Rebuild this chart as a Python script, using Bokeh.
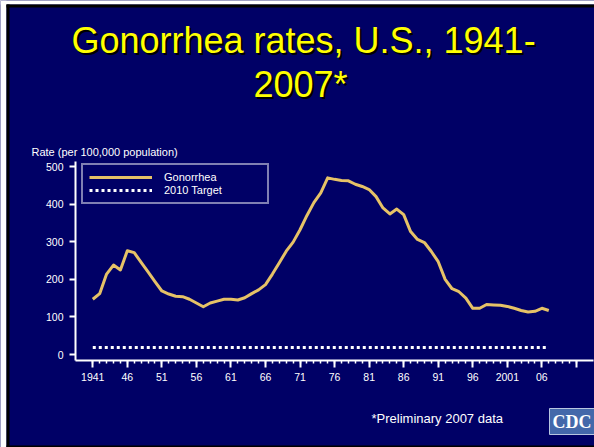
from bokeh.plotting import figure
from bokeh.models import Range1d, FixedTicker, Label, Legend, LegendItem, BoxAnnotation
from bokeh.embed import file_html
from bokeh.resources import INLINE

# ---------------- data ----------------
years = list(range(1941, 2008))
rates = [
    147, 162, 214, 238, 225, 276, 271, 245, 220, 194,   # 1941-1950
    169, 161, 155, 154, 147, 137, 127, 137, 142, 147,   # 1951-1960
    147, 145, 151, 162, 172, 186, 214, 244, 275, 299,   # 1961-1970
    332, 370, 404, 430, 470, 466, 463, 462, 453, 447,   # 1971-1980
    439, 420, 390, 374, 387, 372, 327, 306, 298, 274,   # 1981-1990
    247, 200, 175, 167, 150, 123, 123, 133, 132, 131,   # 1991-2000
    128, 123, 117, 113, 115, 123, 117,                  # 2001-2007
]
target_2010 = 19
target = [target_2010 for _ in years]

x_major_ticks = list(range(1941, 2012, 5))
x_minor_ticks = list(range(1941, 2012))
x_tick_labels = ["1941", "46", "51", "56", "61", "66", "71", "76", "81",
                 "86", "91", "96", "2001", "06", ""]
y_ticks = [0, 100, 200, 300, 400, 500]

# ---------------- style / layout ----------------
W, H = 594, 447
NAVY = "#000066"
GOLD = "#E6C267"
FONT = "Liberation Sans"

# axis box (data) and where it sits on the page (px)
AX0, AX1 = 1938.5, 2013.4
AY0, AY1 = -15.9, 513.5
FL, FR, FT, FB = 75, 592.5, 161, 360

XPP = (AX1 - AX0) / (FR - FL)   # data units per px
YPP = (AY1 - AY0) / (FB - FT)


def px_x(px):
    return AX0 + (px - FL) * XPP


def px_y(py):
    return AY0 + (FB - py) * YPP


p = figure(width=W, height=H,
           x_range=Range1d(px_x(0), px_x(W)), y_range=Range1d(px_y(H), px_y(0)),
           output_backend="svg", toolbar_location=None,
           min_border=0, min_border_left=0, min_border_right=0,
           min_border_top=0, min_border_bottom=0,
           background_fill_color=NAVY, border_fill_color=NAVY,
           outline_line_color=None)
p.grid.visible = False

# slide edge (white margin + black shadow line)
for (l, r, t, b, c) in ((0, 6, 0, H, "white"), (0, W, 0, 4, "white"),
                        (6, 9, 4, H, "black"), (6, W, 4, 7, "black"),
                        (6, W, 445, H, "black")):
    p.add_layout(BoxAnnotation(left=px_x(l), right=px_x(r), top=px_y(t), bottom=px_y(b),
                               fill_color=c, fill_alpha=1, line_color=None))

xa = p.xaxis[0]
xa.ticker = FixedTicker(ticks=x_major_ticks, minor_ticks=x_minor_ticks)
xa.major_label_overrides = {t: l for t, l in zip(x_major_ticks, x_tick_labels)}
xa.fixed_location = AY0
xa.bounds = (AX0, AX1)
ya = p.yaxis[0]
ya.ticker = FixedTicker(ticks=y_ticks, minor_ticks=[])
ya.fixed_location = AX0
ya.bounds = (AY0, AY1)

for ax in (xa, ya):
    ax.axis_line_color = "white"
    ax.axis_line_width = 2
    ax.major_tick_line_color = "white"
    ax.major_tick_line_width = 2
    ax.minor_tick_line_color = "white"
    ax.minor_tick_line_width = 1.5
    ax.major_tick_in = 0
    ax.minor_tick_in = 0
    ax.major_label_text_color = "white"
    ax.major_label_text_font = FONT
    ax.major_label_text_font_size = "10.5px"

xa.major_tick_out = 7
xa.minor_tick_out = 3
xa.major_label_standoff = 5
ya.major_tick_out = 6
ya.minor_tick_out = 0
ya.major_label_standoff = 6

r1 = p.line(years, rates, line_color=GOLD, line_width=3, line_join="round")
r2 = p.line(years, target, line_color="white", line_width=3, line_dash="3 3")

legend = Legend(items=[LegendItem(label="Gonorrhea", renderers=[r1]),
                       LegendItem(label="2010 Target", renderers=[r2])],
                location=(81, H - 204),
                border_line_color="white", border_line_width=2,
                background_fill_color=NAVY, background_fill_alpha=1,
                label_text_color="white", label_text_font=FONT,
                label_text_font_size="11px",
                glyph_width=63, glyph_height=12, label_height=12,
                label_width=97, label_standoff=12,
                padding=6, spacing=1, margin=0)
p.add_layout(legend)

# title with drop shadow
for txt, cx, base in (("Gonorrhea rates, U.S., 1941-", 303, 40),
                      ("2007*", 300, 84)):
    p.add_layout(Label(x=px_x(cx + 2), y=px_y(base + 2), text=txt,
                       text_font=FONT, text_font_size="36px",
                       text_color="black", text_align="center",
                       text_baseline="alphabetic"))
    p.add_layout(Label(x=px_x(cx), y=px_y(base), text=txt,
                       text_font=FONT, text_font_size="36px",
                       text_color="#FFFF00", text_align="center",
                       text_baseline="alphabetic"))

p.add_layout(Label(x=px_x(31), y=px_y(151), text="Rate (per 100,000 population)",
                   text_font=FONT, text_font_size="11px", text_color="white",
                   text_align="left", text_baseline="middle"))

p.add_layout(Label(x=px_x(371), y=px_y(418), text="*Preliminary 2007 data",
                   text_font=FONT, text_font_size="13px", text_color="white",
                   text_align="left", text_baseline="middle"))

# CDC logo
p.add_layout(Label(x=px_x(549), y=px_y(408), text="CDC",
                   text_font="Liberation Serif", text_font_style="bold",
                   text_font_size="18px", text_color="white",
                   text_align="left", text_baseline="top",
                   background_fill_color="#4468AA", padding=3,
                   border_line_color="#B8C6E0", border_line_width=1))

open("out.html", "w").write(file_html(p, INLINE))
